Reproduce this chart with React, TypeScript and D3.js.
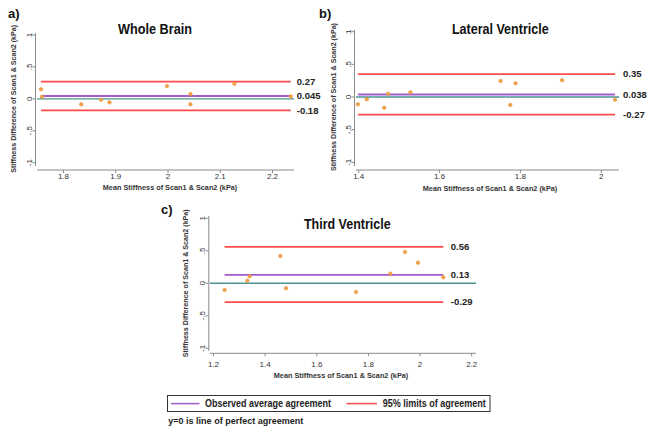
import React from 'react';
import * as d3 from 'd3';

// ---- data ----
const wholeBrainMean = [1.757, 1.759, 1.834, 1.872, 1.888, 1.998, 2.043, 2.043, 2.127, 2.235];
const wholeBrainDiff = [0.15, 0.033, -0.086, -0.014, -0.055, 0.2, 0.075, -0.086, 0.237, 0.039];
const wholeBrainLimits = [0.27, 0.045, -0.18];
const wholeBrainLimitLabels = ['0.27', '0.045', '-0.18'];

const lateralMean = [1.398, 1.42, 1.463, 1.473, 1.528, 1.751, 1.775, 1.788, 1.903, 2.034];
const lateralDiff = [-0.112, -0.035, -0.164, 0.05, 0.072, 0.245, -0.122, 0.21, 0.256, -0.041];
const lateralLimits = [0.35, 0.038, -0.27];
const lateralLimitLabels = ['0.35', '0.038', '-0.27'];

const thirdMean = [1.243, 1.331, 1.34, 1.459, 1.481, 1.752, 1.885, 1.942, 1.992, 2.09];
const thirdDiff = [-0.103, 0.04, 0.108, 0.42, -0.077, -0.134, 0.148, 0.482, 0.317, 0.092];
const thirdLimits = [0.56, 0.13, -0.29];
const thirdLimitLabels = ['0.56', '0.13', '-0.29'];

const yTicks = [-1, -0.5, 0, 0.5, 1];
const yTickLabels = ['-1', '-.5', '0', '.5', '1'];
const wholeBrainXTicks = [1.8, 1.9, 2, 2.1, 2.2];
const lateralXTicks = [1.4, 1.6, 1.8, 2];
const thirdXTicks = [1.2, 1.4, 1.6, 1.8, 2, 2.2];

const panelTitles = ['Whole Brain', 'Lateral Ventricle', 'Third Ventricle'];
const panelTags = ['a)', 'b)', 'c)'];
const yTitle = 'Stiffness Difference of Scan1 & Scan2 (kPa)';
const xTitle = 'Mean Stiffness of Scan1 & Scan2 (kPa)';
const legendLabels = ['Observed average agreement', '95% limits of agreement'];
const footnote = 'y=0 is line of perfect agreement';

// ---- styles ----
const RED = '#ff4a4a';
const PURPLE = '#a35ccc';
const TEAL = '#4a9494';
const DOT = '#f3a24a';
const AXIS = '#8a8a8a';
const FONT = 'Liberation Sans, Arial, sans-serif';

type Layout = {
  xDom: [number, number];
  xPx: [number, number];
  yPx: [number, number];
  yAxisX: number;
  xAxisY: number;
  xAxisPx: [number, number];
  yAxisPx: [number, number];
  titleX: number;
  titleY: number;
  titleLen: number;
  tagX: number;
  tagY: number;
  yTitleX: number;
  xTitleX: number;
  xTitleY: number;
  xTickY: number;
  labelGap: number;
};

const layouts: Layout[] = [
  {
    xDom: [1.8, 2.2], xPx: [63.5, 272.5], yPx: [162.7, 35], yAxisX: 35.5, xAxisY: 170,
    xAxisPx: [37, 294], yAxisPx: [33, 166], titleX: 155, titleY: 33.5, titleLen: 74,
    tagX: 8, tagY: 18, yTitleX: 16, xTitleX: 170, xTitleY: 189.5, xTickY: 179, labelGap: 6,
  },
  {
    xDom: [1.4, 2.0], xPx: [358.7, 601.3], yPx: [162.3, 31.7], yAxisX: 354.5, xAxisY: 170,
    xAxisPx: [356, 619], yAxisPx: [30, 166], titleX: 500.3, titleY: 33.5, titleLen: 96.7,
    tagX: 319, tagY: 18, yTitleX: 335.5, xTitleX: 490, xTitleY: 190.5, xTickY: 179, labelGap: 8,
  },
  {
    xDom: [1.2, 2.2], xPx: [213.5, 471.7], yPx: [348.3, 218.3], yAxisX: 208.8, xAxisY: 353.3,
    xAxisPx: [210, 476], yAxisPx: [216, 351], titleX: 347.3, titleY: 228.5, titleLen: 86.7,
    tagX: 161, tagY: 213.5, yTitleX: 188, xTitleX: 341, xTitleY: 377.5, xTickY: 366.5, labelGap: 7.5,
  },
];

const panelData = [
  { mean: wholeBrainMean, diff: wholeBrainDiff, limits: wholeBrainLimits, labels: wholeBrainLimitLabels, xTicks: wholeBrainXTicks },
  { mean: lateralMean, diff: lateralDiff, limits: lateralLimits, labels: lateralLimitLabels, xTicks: lateralXTicks },
  { mean: thirdMean, diff: thirdDiff, limits: thirdLimits, labels: thirdLimitLabels, xTicks: thirdXTicks },
];

function Panel({ idx }: { idx: number }) {
  const L = layouts[idx];
  const D = panelData[idx];
  const x = d3.scaleLinear().domain(L.xDom).range(L.xPx);
  const y = d3.scaleLinear().domain([-1, 1]).range(L.yPx);
  const [xmin, xmax] = d3.extent(D.mean) as [number, number];
  const limitColors = [RED, PURPLE, RED];
  const yMid = (L.yPx[0] + L.yPx[1]) / 2;
  return (
    <g>
      <text x={L.tagX} y={L.tagY} fontFamily={FONT} fontWeight="bold" fontSize={13} fill="#111">{panelTags[idx]}</text>
      <text x={L.titleX} y={L.titleY} textAnchor="middle" fontFamily={FONT} fontWeight="bold" fontSize={14.5}
        textLength={L.titleLen} lengthAdjust="spacingAndGlyphs" fill="#111">{panelTitles[idx]}</text>
      {/* axes */}
      <line x1={L.yAxisX} x2={L.yAxisX} y1={L.yAxisPx[0]} y2={L.yAxisPx[1]} stroke={AXIS} strokeWidth={1} />
      <line x1={L.xAxisPx[0]} x2={L.xAxisPx[1]} y1={L.xAxisY} y2={L.xAxisY} stroke={AXIS} strokeWidth={1} />
      {yTicks.map((t, i) => (
        <g key={'yt' + i}>
          <line x1={L.yAxisX - 3} x2={L.yAxisX} y1={y(t)} y2={y(t)} stroke={AXIS} />
          <text transform={`translate(${L.yAxisX - 4},${y(t)}) rotate(-90)`} textAnchor="middle"
            fontFamily={FONT} fontSize={8} fill="#333">{yTickLabels[i]}</text>
        </g>
      ))}
      {D.xTicks.map((t, i) => (
        <g key={'xt' + i}>
          <line x1={x(t)} x2={x(t)} y1={L.xAxisY} y2={L.xAxisY + 3} stroke={AXIS} />
          <text x={x(t)} y={L.xTickY} textAnchor="middle" fontFamily={FONT} fontSize={8} fill="#333">{String(t)}</text>
        </g>
      ))}
      <text transform={`translate(${L.yTitleX},${yMid}) rotate(-90)`} textAnchor="middle" fontFamily={FONT}
        fontWeight="bold" fontSize={7.5} textLength={148} lengthAdjust="spacingAndGlyphs" fill="#333">{yTitle}</text>
      <text x={L.xTitleX} y={L.xTitleY} textAnchor="middle" fontFamily={FONT} fontWeight="bold" fontSize={8}
        textLength={134.5} lengthAdjust="spacingAndGlyphs" fill="#333">{xTitle}</text>
      {/* zero line */}
      <line x1={L.xAxisPx[0]} x2={L.xAxisPx[1]} y1={y(0)} y2={y(0)} stroke={TEAL} strokeWidth={1.4} />
      {/* limit lines */}
      {D.limits.map((v, i) => (
        <g key={'lim' + i}>
          <line x1={x(xmin)} x2={x(xmax)} y1={y(v)} y2={y(v)} stroke={limitColors[i]} strokeWidth={1.8} />
          <text x={x(xmax) + L.labelGap} y={y(v)} dy="0.35em" fontFamily={FONT} fontWeight="bold" fontSize={9.5}
            fill="#222">{D.labels[i]}</text>
        </g>
      ))}
      {/* points */}
      {D.mean.map((m, i) => (
        <circle key={'p' + i} cx={x(m)} cy={y(D.diff[i])} r={1.8} fill={DOT} stroke="#e08a2e" strokeWidth={0.5} />
      ))}
    </g>
  );
}

export default function App() {
  return (
    <svg width={654} height={433} style={{ position: 'absolute', left: 0, top: 0, background: '#fff' }}>
      <rect width={654} height={433} fill="#fff" />
      {[0, 1, 2].map((i) => <Panel key={i} idx={i} />)}
      {/* legend */}
      <rect x={167.5} y={395.5} width={322.5} height={16} fill="#fff" stroke="#333" strokeWidth={1} />
      <line x1={171} x2={199.5} y1={403.6} y2={403.6} stroke={PURPLE} strokeWidth={1.5} />
      <text x={205} y={403.6} dy="0.35em" fontFamily={FONT} fontWeight="bold" fontSize={10} textLength={126}
        lengthAdjust="spacingAndGlyphs" fill="#222">{legendLabels[0]}</text>
      <line x1={346.5} x2={377} y1={403.6} y2={403.6} stroke={RED} strokeWidth={1.5} />
      <text x={382.7} y={403.6} dy="0.35em" fontFamily={FONT} fontWeight="bold" fontSize={10} textLength={103}
        lengthAdjust="spacingAndGlyphs" fill="#222">{legendLabels[1]}</text>
      <text x={168.3} y={421} dy="0.35em" fontFamily={FONT} fontWeight="bold" fontSize={9.5} textLength={135}
        lengthAdjust="spacingAndGlyphs" fill="#222">{footnote}</text>
    </svg>
  );
}
